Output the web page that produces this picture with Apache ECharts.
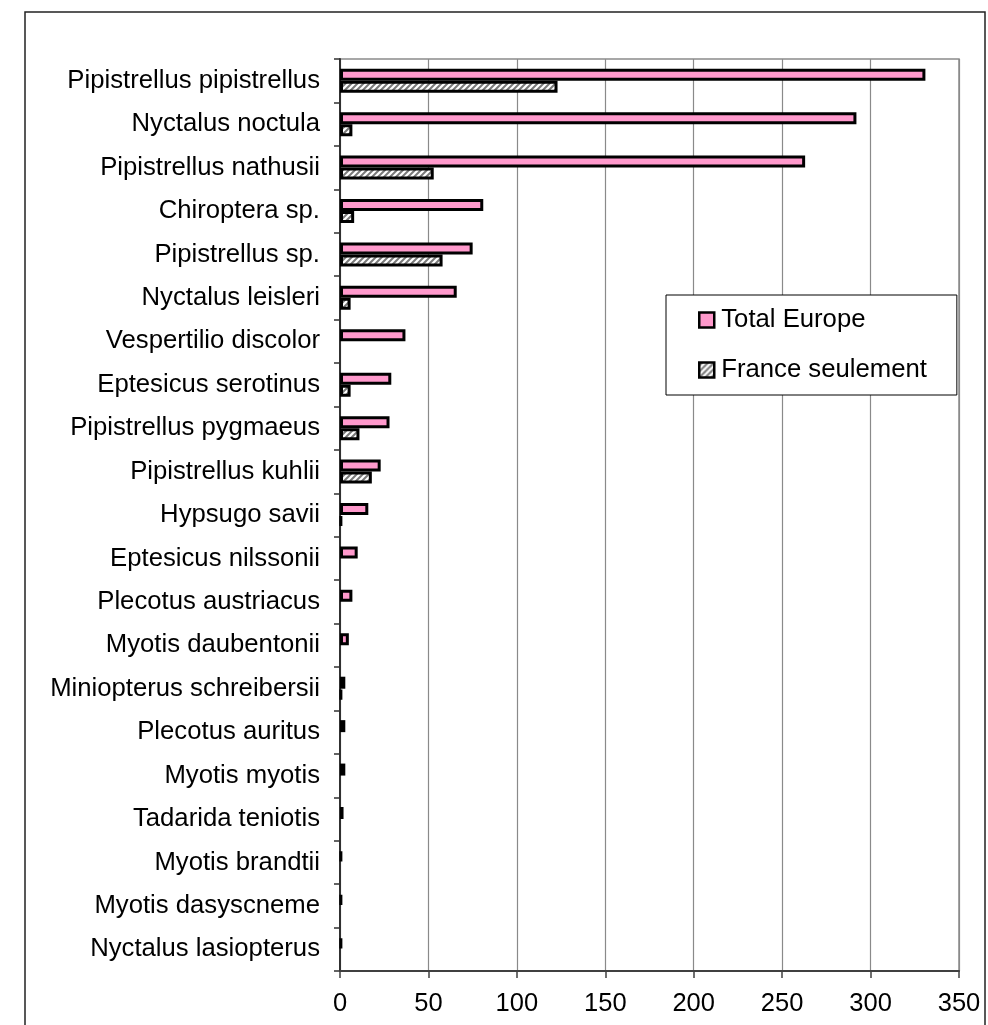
<!DOCTYPE html>
<html>
<head>
<meta charset="utf-8">
<script src="https://cdn.jsdelivr.net/npm/echarts@6/dist/echarts.min.js"></script>
<style>
  html, body { margin: 0; padding: 0; background: #fff; }
  #chart { width: 988px; height: 1025px; }
</style>
</head>
<body>
<div id="chart"></div>
<script>
// Bat species, from top to bottom
const species = [
  'Pipistrellus pipistrellus', 'Nyctalus noctula', 'Pipistrellus nathusii',
  'Chiroptera sp.', 'Pipistrellus sp.', 'Nyctalus leisleri',
  'Vespertilio discolor', 'Eptesicus serotinus', 'Pipistrellus pygmaeus',
  'Pipistrellus kuhlii', 'Hypsugo savii', 'Eptesicus nilssonii',
  'Plecotus austriacus', 'Myotis daubentonii', 'Miniopterus schreibersii',
  'Plecotus auritus', 'Myotis myotis', 'Tadarida teniotis',
  'Myotis brandtii', 'Myotis dasyscneme', 'Nyctalus lasiopterus'
];
// Totals for the whole of Europe
const totalEurope = [331, 292, 263, 81, 75, 66, 37, 29, 28, 23, 16, 10, 7, 5, 3, 3, 3, 2, 1, 1, 1];
// France only
const franceOnly = [123, 7, 53, 8, 58, 6, 0, 6, 11, 18, 1, 0, 0, 0, 1, 0, 0, 0, 0, 0, 0];
// Value axis ticks
const xTicks = [0, 50, 100, 150, 200, 250, 300, 350];

const FONT = '"Liberation Sans", Arial, sans-serif';
const PINK = '#FF99CC';

// Grey fill with white diagonal hatching
function hatch() {
  const s = 6;
  const c = document.createElement('canvas');
  c.width = s; c.height = s;
  const g = c.getContext('2d');
  g.fillStyle = '#7a7a7a';
  g.fillRect(0, 0, s, s);
  g.strokeStyle = '#ffffff';
  g.lineWidth = 2.2;
  g.beginPath();
  g.moveTo(0, s); g.lineTo(s, 0);
  g.moveTo(-s / 2, s / 2); g.lineTo(s / 2, -s / 2);
  g.moveTo(s / 2, s + s / 2); g.lineTo(s + s / 2, s / 2);
  g.stroke();
  return { image: c, repeat: 'repeat' };
}
const HATCH = hatch();

// Empty counts get no bar at all (avoids a stray outline on the axis)
const asBars = arr => arr.map(v => (v === 0 ? '-' : v));

const chart = echarts.init(document.getElementById('chart'), null, { renderer: 'canvas' });

chart.setOption({
  animation: false,
  backgroundColor: '#ffffff',
  textStyle: { fontFamily: FONT },
  grid: {
    left: 340, right: 29, top: 59, bottom: 54,
    show: true, borderColor: '#8a8a8a', borderWidth: 1.5
  },
  legend: {
    orient: 'vertical',
    left: 666, top: 295,
    padding: [12, 30, 12, 32],
    itemWidth: 15, itemHeight: 15, itemGap: 24,
    backgroundColor: '#ffffff',
    borderColor: '#000000', borderWidth: 1,
    borderRadius: 0,
    textStyle: { fontSize: 25.7, color: '#000', fontFamily: FONT, padding: [0, 0, 0, 2] },
    data: [
      { name: 'Total Europe', icon: 'rect', itemStyle: { color: PINK, borderColor: '#000', borderWidth: 2.5 } },
      { name: 'France seulement', icon: 'rect', itemStyle: { color: HATCH, borderColor: '#000', borderWidth: 2.5 } }
    ]
  },
  xAxis: {
    type: 'value',
    min: xTicks[0], max: xTicks[xTicks.length - 1], interval: 50,
    axisLine: { show: true, lineStyle: { color: '#404040', width: 2 } },
    axisTick: { show: true, inside: false, length: 7, lineStyle: { color: '#404040', width: 1.5 } },
    axisLabel: { fontSize: 25.5, color: '#000', margin: 20, fontFamily: FONT },
    splitLine: { show: true, lineStyle: { color: '#8a8a8a', width: 1.2 } }
  },
  yAxis: {
    type: 'category',
    inverse: true,
    data: species,
    axisLine: { show: true, lineStyle: { color: '#303030', width: 2 } },
    axisTick: { show: true, length: 6, lineStyle: { color: '#303030', width: 1.5 } },
    axisLabel: { fontSize: 25.7, color: '#000', margin: 20, fontFamily: FONT },
    splitLine: { show: false }
  },
  series: [
    {
      name: 'Total Europe', type: 'bar', data: asBars(totalEurope),
      barWidth: 12, barGap: '0%',
      itemStyle: { color: PINK, borderColor: '#000', borderWidth: 3 }
    },
    {
      name: 'France seulement', type: 'bar', data: asBars(franceOnly),
      barWidth: 12, barGap: '0%',
      itemStyle: { color: HATCH, borderColor: '#000', borderWidth: 3 }
    }
  ],
  graphic: [
    {
      type: 'rect', silent: true, z: 100,
      shape: { x: 25, y: 12, width: 960, height: 1100 },
      style: { fill: 'none', stroke: '#222', lineWidth: 1.5 }
    }
  ]
});
</script>
</body>
</html>
